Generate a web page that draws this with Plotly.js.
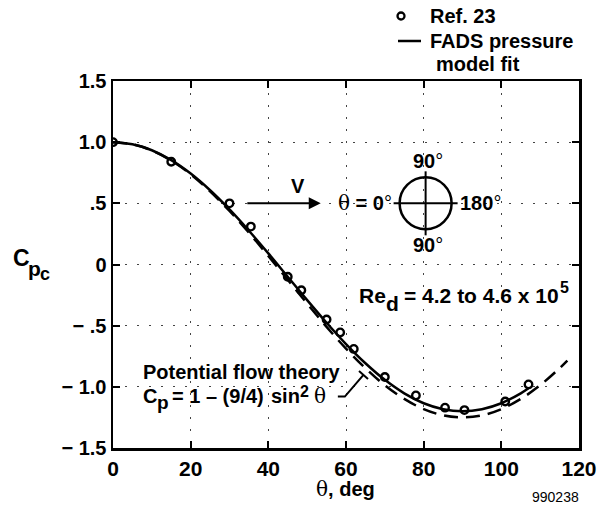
<!DOCTYPE html>
<html>
<head>
<meta charset="utf-8">
<script src="https://cdn.plot.ly/plotly-3.0.1.min.js"></script>
<style>html,body{margin:0;padding:0;background:#fff;}#chart{width:608px;height:516px;}</style>
</head>
<body>
<div id="chart"></div>
<script>
// Ref. 23 measured points (theta deg, Cp)
const refTheta = [0, 15, 30, 35.5, 45, 48.5, 55, 58.5, 62, 70, 78, 85.5, 90.5, 101, 107];
const refCp    = [1.0, 0.84, 0.50, 0.31, -0.10, -0.21, -0.45, -0.555, -0.69, -0.92, -1.07, -1.17, -1.19, -1.12, -0.98];

// FADS pressure model fit (solid line)
const fitTheta = [0, 5, 10, 15, 20, 25, 30, 35, 40, 45, 50, 55, 60, 65, 70, 75, 80, 85, 90, 95, 100, 105, 107];
const fitCp    = [1.0, 0.983, 0.934, 0.853, 0.743, 0.607, 0.45, 0.276, 0.091, -0.10, -0.291, -0.476, -0.65, -0.807, -0.943, -1.053, -1.134, -1.183, -1.20, -1.183, -1.134, -1.053, -1.012];

// Potential flow theory (dashed line)
const potTheta = [0, 5, 10, 15, 20, 25, 30, 35, 40, 45, 50, 55, 60, 65, 70, 75, 80, 85, 90, 95, 100, 105, 110, 115, 117];
const potCp    = [1.0, 0.983, 0.932, 0.849, 0.737, 0.598, 0.4375, 0.260, 0.070, -0.125, -0.320, -0.510, -0.6875, -0.848, -0.987, -1.099, -1.182, -1.233, -1.25, -1.233, -1.182, -1.099, -0.987, -0.848, -0.786];

const xTicks = [0, 20, 40, 60, 80, 100, 120];
const xTickText = ["0", "20", "40", "60", "80", "100", "120"];
const yTicks = [1.5, 1.0, 0.5, 0, -0.5, -1.0, -1.5];
const yTickText = ["1.5", "1.0", ".5", "0", "\u2212 .5", "\u2212 1.0", "\u2212 1.5"];

const legendLabels = ["Ref. 23", "FADS pressure", "model fit"];

const FONT = "Liberation Sans, Arial, Helvetica, sans-serif";
const SERIF = "DejaVu Serif, Liberation Serif, serif";
const th = '<span style="font-family:' + SERIF + ';font-weight:normal">\u03b8</span>';
const deg = '<span style="font-weight:normal">\u00b0</span>';

// plot-area geometry helpers (paper coords from pixel positions)
const L = 113, R = 29, T = 81, B = 68, W = 608, H = 516;
const PW = W - L - R, PH = H - T - B;
const px = v => (v - L) / PW;
const py = v => (H - B - v) / PH;

const traces = [
  {
    x: potTheta, y: potCp, type: 'scatter', mode: 'lines', name: 'Potential flow theory',
    line: {color: '#000', width: 2.5, dash: '14px,8px', shape: 'spline'},
    showlegend: false, hoverinfo: 'skip'
  },
  {
    x: fitTheta, y: fitCp, type: 'scatter', mode: 'lines', name: 'FADS pressure model fit',
    line: {color: '#000', width: 2.5, shape: 'spline'}, showlegend: false
  },
  {
    x: refTheta, y: refCp, type: 'scatter', mode: 'markers', name: 'Ref. 23',
    marker: {symbol: 'circle-open', size: 7.5, color: '#000', line: {width: 2.4, color: '#000'}},
    showlegend: false
  }
];

const axisCommon = {
  showline: true, linecolor: '#000', linewidth: 2.5, mirror: 'ticks',
  ticks: 'inside', ticklen: 7, tickwidth: 2, tickcolor: '#000',
  showgrid: true, gridcolor: '#444', gridwidth: 1, griddash: '2px,10px',
  zeroline: false,
  tickfont: {family: FONT, size: 20, color: '#000', weight: 'bold'}
};

// text placed by pixel position (left edge, vertical centre)
const ptxt = (x, y, text, size, extra) => Object.assign({
  xref: 'paper', yref: 'paper', x: px(x), y: py(y), xanchor: 'left', yanchor: 'middle',
  text: text, showarrow: false, borderpad: 0,
  font: {family: FONT, size: size || 20, weight: 'bold', color: '#000'}
}, extra || {});

const layout = {
  width: W, height: H,
  margin: {l: L, r: R, t: T, b: B, autoexpand: false},
  paper_bgcolor: '#fff', plot_bgcolor: '#fff',
  font: {family: FONT, color: '#000'},
  showlegend: false,
  xaxis: Object.assign({}, axisCommon, {
    range: [0, 120], tickvals: xTicks, ticktext: xTickText,
    tickfont: {family: FONT, size: 21, color: '#000', weight: 'bold'}
  }),
  yaxis: Object.assign({}, axisCommon, {
    range: [-1.5, 1.5], tickvals: yTicks, ticktext: yTickText
  }),
  shapes: [
    // legend symbols
    {type: 'circle', xref: 'paper', yref: 'paper', xsizemode: 'pixel', ysizemode: 'pixel',
     xanchor: px(401), yanchor: py(16), x0: -3.5, x1: 3.5, y0: -3.5, y1: 3.5,
     line: {color: '#000', width: 2.3}},
    {type: 'line', xref: 'paper', yref: 'paper', x0: px(398), x1: px(421), y0: py(41), y1: py(41),
     line: {color: '#000', width: 2.5}},
    // cylinder sketch
    {type: 'circle', xref: 'x', yref: 'y', xsizemode: 'pixel', ysizemode: 'pixel',
     xanchor: 80.5, yanchor: 0.5, x0: -26, x1: 26, y0: -26, y1: 26,
     line: {color: '#000', width: 2.5}},
    {type: 'line', xref: 'x', yref: 'y', xsizemode: 'pixel', ysizemode: 'pixel',
     xanchor: 80.5, yanchor: 0.5, x0: -32, x1: 32, y0: 0, y1: 0,
     line: {color: '#000', width: 2}},
    {type: 'line', xref: 'x', yref: 'y', xsizemode: 'pixel', ysizemode: 'pixel',
     xanchor: 80.5, yanchor: 0.5, x0: 0, x1: 0, y0: -32, y1: 32,
     line: {color: '#000', width: 2}},
    // leader line for potential flow label
    {type: 'path', xref: 'x', yref: 'y',
     path: 'M 57.9 -1.080 L 59.7 -1.080 L 64.5 -0.903',
     line: {color: '#000', width: 2}},
    {type: 'line', xref: 'x', yref: 'y', x0: 63.35, y0: -0.870, x1: 65.67, y1: -0.935,
     line: {color: '#000', width: 2}}
  ],
  annotations: [
    // legend texts
    ptxt(429, 16, legendLabels[0]),
    ptxt(429, 41, legendLabels[1]),
    ptxt(435, 64, legendLabels[2]),
    // y-axis title C_p_c
    ptxt(12, 258, 'C', 23),
    ptxt(27, 268, 'p', 21),
    ptxt(39, 274, 'c', 18),
    // x-axis title
    ptxt(345, 489, th + ', deg', 20, {xanchor: 'center'}),
    // flow arrow
    {xref: 'x', yref: 'y', axref: 'x', ayref: 'y', x: 53.5, y: 0.5, ax: 34.2, ay: 0.5,
     text: '', showarrow: true, arrowhead: 2, arrowsize: 1.2, arrowwidth: 2, arrowcolor: '#000'},
    ptxt(298, 186, 'V', 20, {xanchor: 'center'}),
    ptxt(337, 203, th + ' = 0' + deg),
    ptxt(428, 161, '90' + deg, 20, {xanchor: 'center'}),
    ptxt(428, 245, '90' + deg, 20, {xanchor: 'center'}),
    ptxt(459, 203, '180' + deg),
    // Reynolds number  Re_d = 4.2 to 4.6 x 10^5
    ptxt(358, 295, 'Re', 21),
    ptxt(385, 303, 'd', 21),
    ptxt(403, 295, '= 4.2 to 4.6 x 10', 21),
    ptxt(559, 287, '5', 16),
    // potential flow label
    ptxt(142, 372, 'Potential flow theory'),
    ptxt(142, 396, 'C'),
    ptxt(156, 402, 'p', 19),
    ptxt(171, 396, '= 1 \u2013 (9/4)'),
    ptxt(270, 396, 'sin'),
    ptxt(299, 391, '2', 16),
    ptxt(313, 396, th),
    // figure number
    ptxt(555, 497, '990238', 14, {xanchor: 'center', font: {family: FONT, size: 14, color: '#000'}})
  ]
};

Plotly.newPlot('chart', traces, layout, {staticPlot: true, displayModeBar: false});
</script>
</body>
</html>
